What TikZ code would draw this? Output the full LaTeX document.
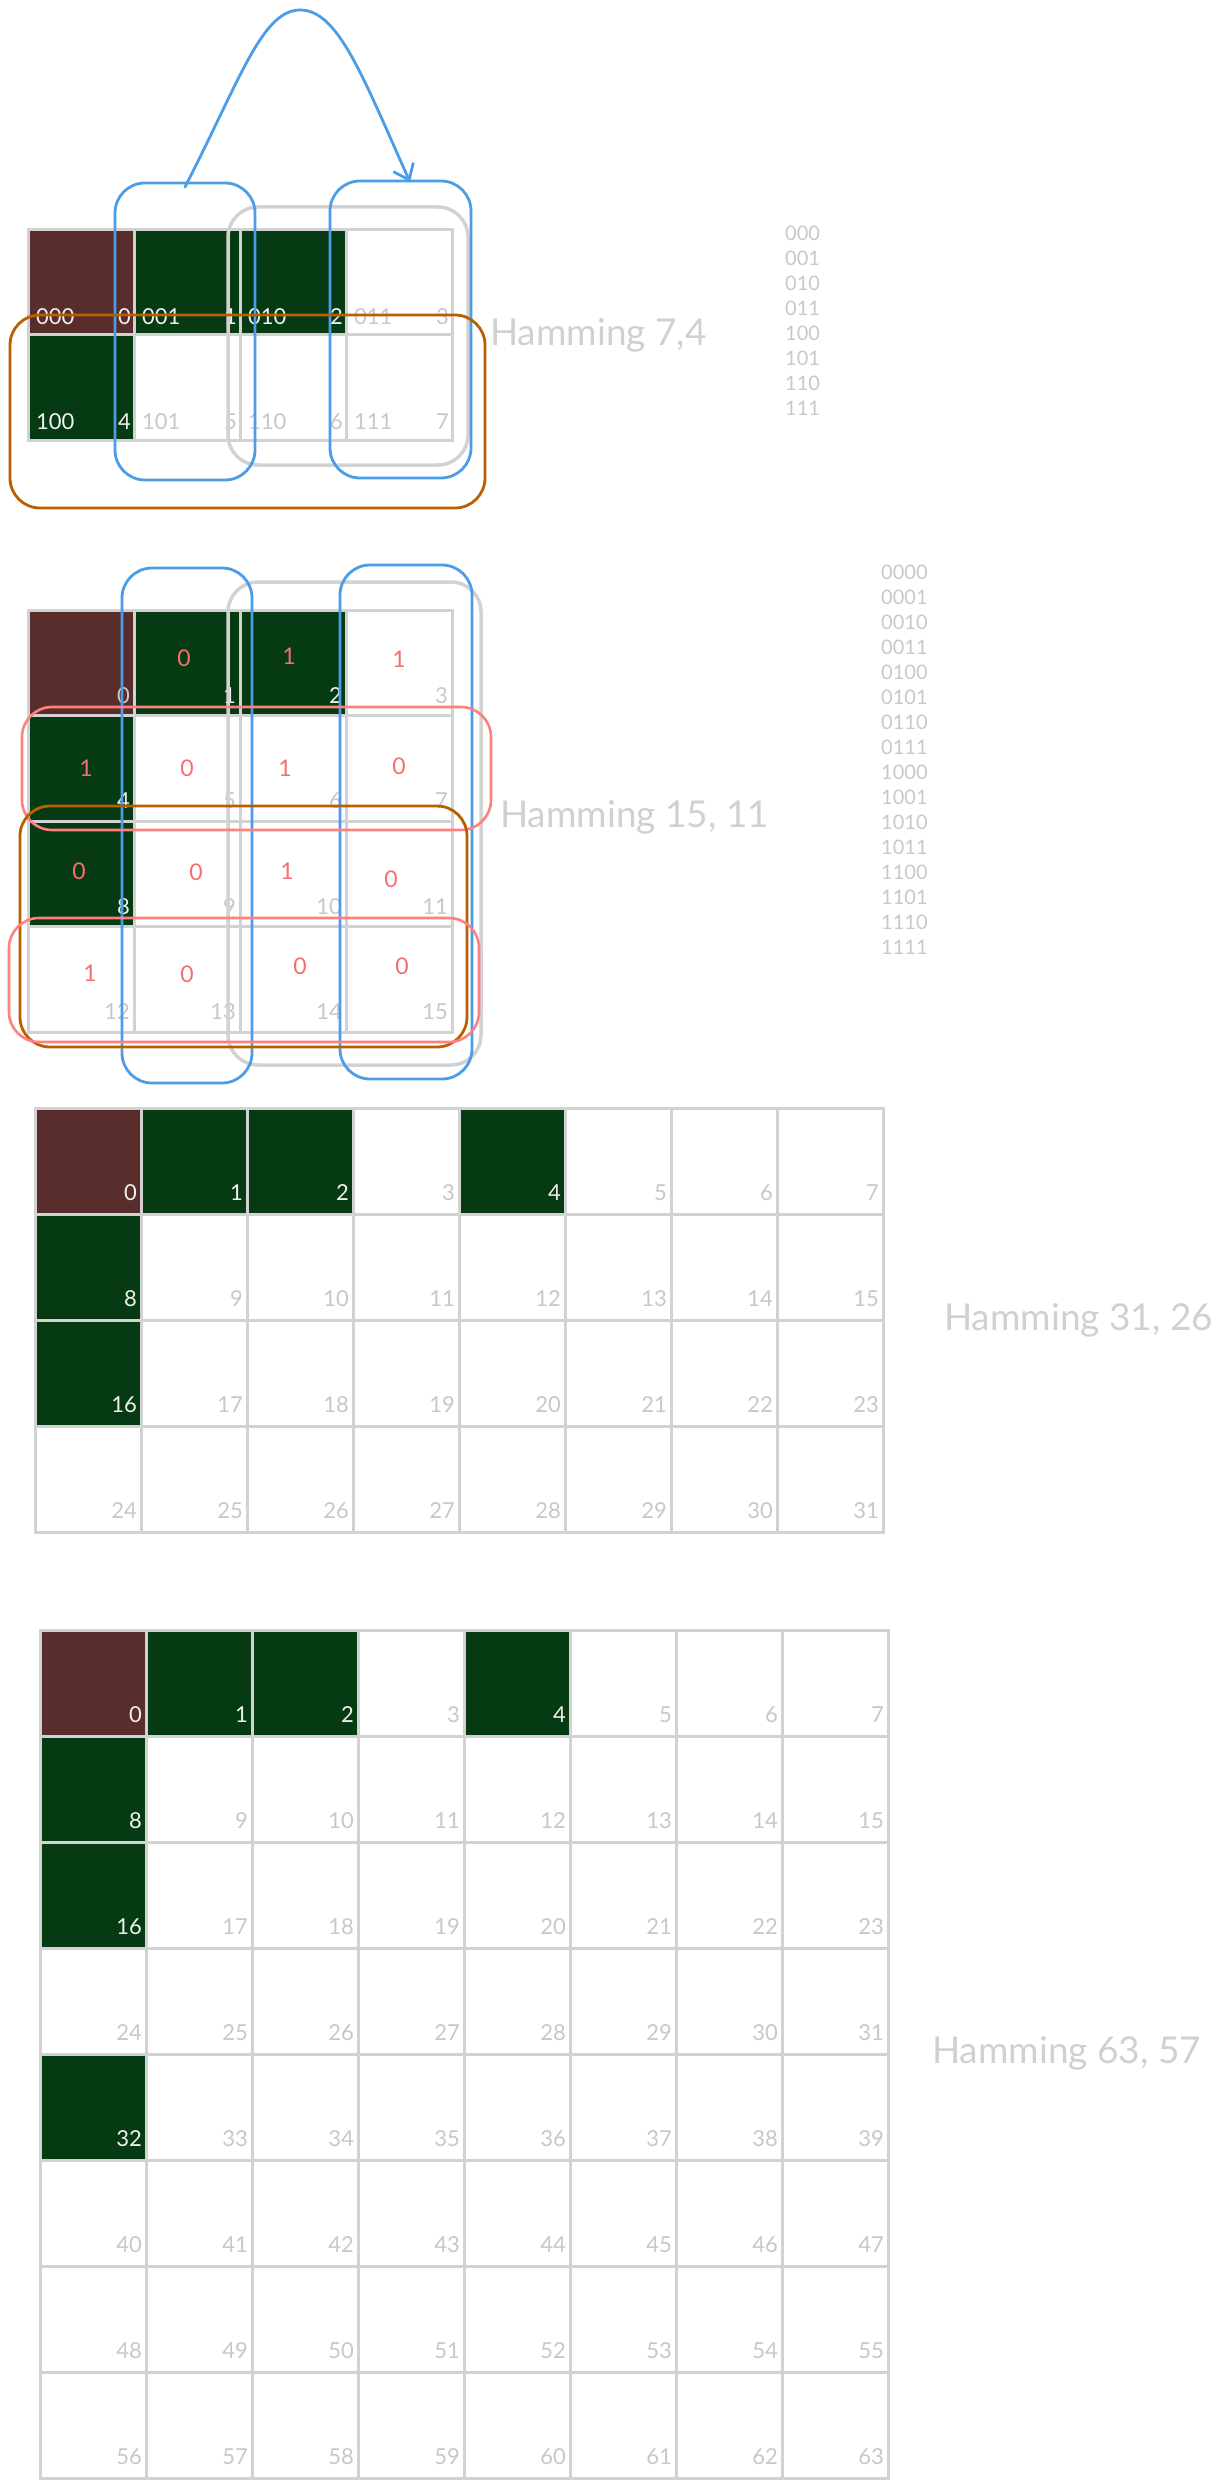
\documentclass[tikz,border=0pt]{standalone}
\usepackage{fontspec}
\setmainfont{Lato}
\usetikzlibrary{calc,arrows.meta}
\definecolor{cmaroon}{HTML}{5A2D2D}
\definecolor{dkgreen}{HTML}{053A12}
\definecolor{gridgray}{HTML}{D2D2D2}
\definecolor{lblgray}{HTML}{C8C8C8}
\definecolor{titlegray}{HTML}{D0D0D0}
\definecolor{blueln}{HTML}{4A9DE6}
\definecolor{orangeln}{HTML}{B86000}
\definecolor{pinkln}{HTML}{FF8080}
\definecolor{redtxt}{HTML}{F47070}
\definecolor{lighttxt}{HTML}{F0F0F0}
\tikzset{
  cellbox/.style={draw=gridgray, line width=3pt, minimum width=106pt, minimum height=105pt, inner sep=0pt, outer sep=0pt},
  sqbox/.style={draw=gridgray, line width=3pt, minimum width=106pt, minimum height=106pt, inner sep=0pt, outer sep=0pt},
  idx/.style={anchor=south east, inner sep=0pt, font=\fontsize{22}{22}\selectfont},
  bin/.style={anchor=south west, inner sep=0pt, font=\fontsize{22}{22}\selectfont},
  bit/.style={inner sep=0pt, text=redtxt, font=\fontsize{23}{23}\selectfont},
  listtxt/.style={anchor=west, inner sep=0pt, text=lblgray, font=\fontsize{20}{20}\selectfont},
  title/.style={anchor=west, inner sep=0pt, text=titlegray, font=\fontsize{37}{37}\selectfont},
  bluebox/.style={draw=blueln, line width=2.8pt, rounded corners=30pt},
  graybox/.style={draw=gridgray, line width=3.5pt, rounded corners=30pt},
  orangebox/.style={draw=orangeln, line width=2.8pt, rounded corners=30pt},
  pinkbox/.style={draw=pinkln, line width=2.6pt, rounded corners=30pt},
}
\begin{document}
\begin{tikzpicture}[x=1pt,y=-1pt]
\useasboundingbox (0,0) rectangle (1225,2488);

% ===== Section 1: Hamming 7,4 =====
\foreach \i/\b/\f/\t in {0/000/cmaroon/lighttxt,1/001/dkgreen/lighttxt,2/010/dkgreen/lighttxt,3/011/white/lblgray,4/100/dkgreen/lighttxt,5/101/white/lblgray,6/110/white/lblgray,7/111/white/lblgray}{
  \pgfmathtruncatemacro\col{mod(\i,4)}
  \pgfmathtruncatemacro\row{div(\i,4)}
  \node[cellbox, fill=\f] (a\i) at ({81+106*\col},{282.5+105*\row}) {};
  \node[bin, text=\t] (a\i-b) at ($(a\i.south west)+(8,-10)$) {\b};
  \node[idx, text=\t] (a\i-n) at ($(a\i.south east)+(-3,-10)$) {\i};
}
\draw[graybox] (228,207) rectangle (468,465);
\draw[bluebox] (115,183) rectangle (255,480);
\draw[bluebox] (330,181) rectangle (471,478);
\draw[orangebox] (10,315) rectangle (485,508);
\coordinate (arrS) at (185,187);
\coordinate (arrE) at (410,182);
\draw[draw=blueln, line width=2.8pt, line cap=round, -{Straight Barb[length=14pt,width=22pt]}]
  (arrS) .. controls (240,80) and (262,10) .. (300,10) .. controls (338,10) and (362,75) .. (arrE);
\node[title] (t1) at (490,335) {Hamming 7,4};
\foreach \b [count=\k from 0] in {000,001,010,011,100,101,110,111}{
  \node[listtxt] (l1-\k) at (785,{233+25*\k}) {\b};
}

% ===== Section 2: Hamming 15, 11 =====
\foreach \i/\f/\t in {0/cmaroon/lblgray,1/dkgreen/lighttxt,2/dkgreen/lighttxt,3/white/lblgray,4/dkgreen/lighttxt,5/white/lblgray,6/white/lblgray,7/white/lblgray,8/dkgreen/lighttxt,9/white/lblgray,10/white/lblgray,11/white/lblgray,12/white/lblgray,13/white/lblgray,14/white/lblgray,15/white/lblgray}{
  \pgfmathtruncatemacro\col{mod(\i,4)}
  \pgfmathtruncatemacro\row{div(\i,4)}
  \node[cellbox, minimum height=105.5pt, fill=\f] (b\i) at ({81+106*\col},{662.75+105.5*\row}) {};
  \node[idx, text=\t] (b\i-n) at ($(b\i.south east)+(-4,-12)$) {\i};
}
\foreach \i/\v/\dx/\dy in {1/0/-3/-5,2/1/-4/-7,3/1/0/-4,4/1/5/0,5/0/0/0,6/1/-8/0,7/0/0/-2,8/0/-2/-3,9/0/9/-2,10/1/-6/-3,11/0/-8/5,12/1/9/-6,13/0/0/-5,14/0/7/-13,15/0/3/-13}{
  \node[bit] (b\i-v) at ($(b\i.center)+(\dx,\dy)$) {\v};
}
\draw[graybox] (228,582) rectangle (481,1065);
\draw[bluebox] (122,568) rectangle (252,1083);
\draw[bluebox] (340,565) rectangle (472,1079);
\draw[pinkbox] (22,707) rectangle (491,830);
\draw[orangebox] (20,806) rectangle (467,1047);
\draw[pinkbox] (9,918) rectangle (479,1042);
\node[title] (t2) at (500,817) {Hamming 15, 11};
\foreach \b [count=\k from 0] in {0000,0001,0010,0011,0100,0101,0110,0111,1000,1001,1010,1011,1100,1101,1110,1111}{
  \node[listtxt] (l2-\k) at (881,{572+25*\k}) {\b};
}

% ===== Section 3: Hamming 31, 26 =====
\foreach \i in {0,...,31}{
  \pgfmathtruncatemacro\col{mod(\i,8)}
  \pgfmathtruncatemacro\row{div(\i,8)}
  \pgfmathtruncatemacro\dark{(\i==1)||(\i==2)||(\i==4)||(\i==8)||(\i==16)}
  \ifnum\i=0 \def\f{cmaroon}\def\t{lighttxt}\else
    \ifnum\dark=1 \def\f{dkgreen}\def\t{lighttxt}\else \def\f{white}\def\t{lblgray}\fi
  \fi
  \node[sqbox, fill=\f] (c\i) at ({88+106*\col},{1161+106*\row}) {};
  \node[idx, text=\t] (c\i-n) at ($(c\i.south east)+(-4,-13)$) {\i};
}
\node[title] (t3) at (944,1320) {Hamming 31, 26};

% ===== Section 4: Hamming 63, 57 =====
\foreach \i in {0,...,63}{
  \pgfmathtruncatemacro\col{mod(\i,8)}
  \pgfmathtruncatemacro\row{div(\i,8)}
  \pgfmathtruncatemacro\dark{(\i==1)||(\i==2)||(\i==4)||(\i==8)||(\i==16)||(\i==32)}
  \ifnum\i=0 \def\f{cmaroon}\def\t{lighttxt}\else
    \ifnum\dark=1 \def\f{dkgreen}\def\t{lighttxt}\else \def\f{white}\def\t{lblgray}\fi
  \fi
  \node[sqbox, fill=\f] (d\i) at ({93+106*\col},{1683+106*\row}) {};
  \node[idx, text=\t] (d\i-n) at ($(d\i.south east)+(-4,-13)$) {\i};
}
\node[title] (t4) at (932,2053) {Hamming 63, 57};
\end{tikzpicture}
\end{document}
